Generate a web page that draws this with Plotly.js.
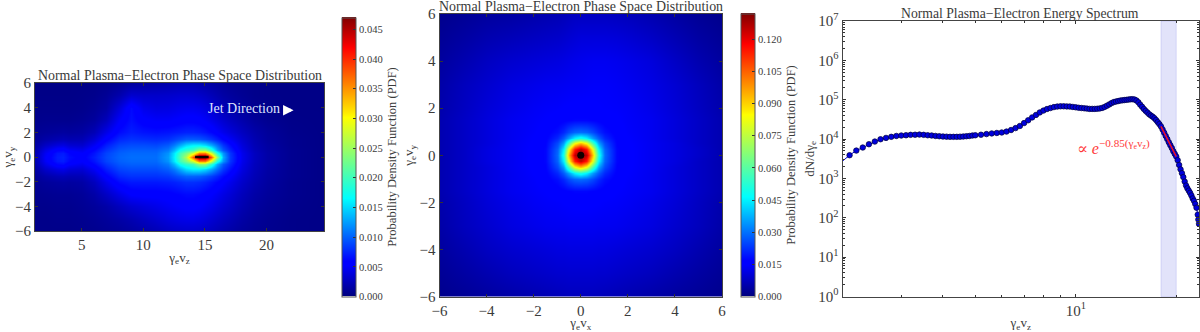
<!DOCTYPE html>
<html><head><meta charset="utf-8">
<script src="https://cdn.plot.ly/plotly-3.0.1.min.js"></script>
<style>html,body{margin:0;padding:0;background:#fff}#c{width:1200px;height:332px}</style></head>
<body><div id="c"></div>
<script>
// Phase-space panel 1 (values in units of 0.001)
const zVals = [1.2,2,3,3.5,4,5,6,7,8,9,10,11,12,12.5,13,13.5,14,14.5,15,15.5,16,16.5,17,18,19,20,22,24.7];
const yVals1 = [-6,-5,-4,-3,-2,-1.5,-1,-0.6,-0.3,0,0.3,0.6,1,1.5,2,3,4,5,6];
const pdfZY = [
[.4,.4,.4,.4,.4,.5,.6,.8,1.0,1.3,1.7,2.2,2.7,2.9,3.0,3.1,3.1,3.0,2.8,2.5,2.2,1.9,1.6,1.1,.8,.6,.4,.3],
[.4,.4,.5,.5,.5,.6,.8,1.1,1.5,2.0,2.6,3.2,3.8,4.0,4.2,4.3,4.3,4.1,3.8,3.4,3.0,2.6,2.2,1.5,1.0,.7,.4,.3],
[.5,.5,.6,.6,.6,.8,1.1,1.6,2.5,3.3,3.8,4.3,4.8,5.0,5.2,5.4,5.4,5.2,4.8,4.4,3.9,3.4,2.9,2.0,1.3,.9,.5,.3],
[.6,.7,.8,.8,.8,1.0,1.6,2.8,4.2,5.3,5.5,5.5,5.6,5.8,6.0,6.2,6.2,6.0,5.6,5.2,4.7,4.1,3.5,2.4,1.6,1.1,.6,.3],
[.8,1.1,1.3,1.4,1.3,1.5,2.5,4.4,6.2,6.8,6.8,6.8,7.0,7.2,7.5,7.8,7.8,7.6,7.2,6.6,5.9,5.2,4.4,3.0,2.0,1.3,.6,.3],
[1.0,1.7,2.2,2.3,2.1,2.2,3.4,5.6,7.4,7.9,7.9,7.9,8.2,8.8,9.4,10,10,9.8,9.2,8.4,7.4,6.2,5.2,3.4,2.2,1.4,.7,.3],
[1.4,3.0,4.0,4.2,3.6,3.4,4.8,7.0,8.6,9.0,9.0,9.0,9.8,11,13,15,16,16,15,13,10.5,8.2,6.4,3.9,2.4,1.5,.7,.3],
[1.8,4.2,6.0,6.2,5.2,4.6,6.0,8.0,9.4,9.8,9.8,9.8,11,13.5,17,19,20,24,24,19,13,9.5,7.4,4.2,2.5,1.6,.7,.3],
[2.0,4.8,6.8,7.0,6.0,5.2,6.6,8.6,9.8,10.2,10.2,10.2,12,15.5,20,23,28,36,36,28,18,12,8,4.4,2.6,1.6,.7,.3],
[2.1,5.0,7.0,7.2,6.3,5.5,7.0,8.8,10,10.4,10.4,10.4,12.4,16,21,26,38,47,47,38,24,13,8.2,4.5,2.6,1.6,.7,.3],
[2.0,4.7,6.7,6.9,5.9,5.2,6.6,8.6,9.8,10.2,10.2,10.2,12,15.5,20,23,28,36,36,28,18,12,8,4.4,2.6,1.6,.7,.3],
[1.8,4.1,5.8,6.0,5.0,4.5,6.0,8.0,9.4,9.8,9.8,9.8,11,13.5,17,19,20,24,24,19,13,9.5,7.2,4.1,2.4,1.5,.7,.3],
[1.4,2.8,3.8,4.0,3.4,3.2,4.8,7.0,8.6,9.0,9.0,8.8,9.6,11,13,15,16,16,15,13,10.5,8,6.2,3.7,2.2,1.4,.6,.3],
[1.0,1.6,2.0,2.2,2.0,2.1,3.4,5.6,7.4,7.9,7.7,7.5,7.8,8.4,9.0,9.6,9.6,9.4,8.8,8.0,7.0,5.8,4.8,3.2,2.0,1.2,.6,.3],
[.8,1.0,1.2,1.3,1.2,1.4,2.2,4.2,6.2,7.0,6.6,6.4,6.6,6.8,7.0,7.2,7.2,7.0,6.6,6.0,5.2,4.4,3.7,2.6,1.7,1.1,.5,.3],
[.5,.6,.6,.6,.6,.8,1.2,2.4,5.0,6.4,5.4,5.0,5.0,5.2,5.4,5.6,5.6,5.4,5.0,4.4,3.8,3.2,2.6,1.8,1.1,.7,.4,.3],
[.4,.4,.4,.4,.4,.5,.8,1.4,3.6,6.2,4.4,3.9,4.0,4.2,4.4,4.5,4.5,4.3,3.9,3.4,2.8,2.3,1.8,1.2,.7,.5,.3,.3],
[.3,.3,.3,.3,.3,.4,.5,.9,1.8,3.2,3.0,3.0,3.1,3.2,3.3,3.3,3.2,3.0,2.7,2.3,1.9,1.5,1.2,.8,.5,.4,.3,.3],
[.3,.3,.3,.3,.3,.3,.4,.5,.8,1.2,1.4,1.6,1.8,1.9,2.0,2.0,2.0,1.8,1.6,1.4,1.2,1.0,.8,.6,.5,.4,.3,.3]
];
const coreLineZ = [14.2,15.3];
const coreLineY = [0,0];

// Phase-space panel 2 (values in units of 0.001)
const xyVals = [-6,-5,-4,-3,-2,-1.5,-1,-.75,-.5,-.25,0,.25,.5,.75,1,1.5,2,3,4,5,6];
const pdfXY = [
[1.5,2.5,3.5,4.5,5.5,6,6.5,6.8,7,7,7,7,7,6.8,6.5,6,5.5,4.5,3.5,2.5,1.5],
[2.5,4,5.5,7,8,8.5,9,9,9.2,9.2,9.2,9.2,9.2,9,9,8.5,8,7,5.5,4,2.5],
[3.5,5.5,7.5,9,10,10.5,11,11,11.2,11.2,11.2,11.2,11.2,11,11,10.5,10,9,7.5,5.5,3.5],
[4.5,7,9,11,12.2,12.8,13,13,13.2,13.2,13.2,13.2,13.2,13,13,12.8,12.2,11,9,7,4.5],
[5,7.5,10,12,13.5,14,14.3,14.6,14.8,15,15,15,14.8,14.6,14.3,14,13.5,12,10,7.5,5],
[5.5,8,10.5,12.8,14,14.6,15.5,16,16.5,17,17,17,16.5,16,15.5,14.6,14,12.8,10.5,8,5.5],
[5.5,8,10.5,12.8,14.3,15.5,18,21,25,28,29,28,25,21,18,15.5,14.3,12.8,10.5,8,5.5],
[5.5,8,10.5,12.8,14.6,16,21,27,35,45,50,45,35,27,21,16,14.6,12.8,10.5,8,5.5],
[5.5,8,10.5,13,14.8,16.5,25,35,57,82,92,82,57,35,25,16.5,14.8,13,10.5,8,5.5],
[5.5,8,11,13,15,17,28,45,82,114,125,114,82,45,28,17,15,13,11,8,5.5],
[5.5,8,11,13,15,17,29,50,92,125,132,125,92,50,29,17,15,13,11,8.5,5.5],
[5.5,8,11,13,15,17,28,45,82,114,125,114,82,45,28,17,15,13,11,8.5,5.5],
[5.5,8,10.5,13,14.8,16.5,25,35,57,82,92,82,57,35,25,16.5,14.8,13,11,8,5.5],
[5.5,8,10.5,12.8,14.6,16,21,27,35,45,50,45,35,27,21,16,14.6,12.8,10.5,8,5.5],
[5.5,8,10.5,12.8,14.3,15.5,18,21,25,28,29,28,25,21,18,15.5,14.3,12.8,10.5,8,5.5],
[5.5,8,10.5,12.8,14,14.6,15.5,16,16.5,17,17,17,16.5,16,15.5,14.8,14,12.8,10.5,8,5.5],
[5,7.5,10,12,13.5,14,14.3,14.6,14.8,15,15,15,14.8,14.6,14.4,14.2,13.8,12.2,10,7.5,5],
[4.5,7,9,11,12.2,12.8,13,13.2,13.4,13.5,13.6,13.8,14,14,14,13.6,13,11.5,9.5,7,4.5],
[3.5,5.5,7.5,9,10,10.5,11,11.4,11.8,12.2,12.5,12.8,13,13,13,12.6,12,10.5,8,5.5,3.5],
[2.5,4,5.5,6.5,7.5,8,8.5,9,9.5,10,10.5,10.5,10.5,10.5,10.5,10.2,9.6,8,6,4,2.5],
[1.5,2.5,3.5,4,5,5.5,6,6.5,7,7.5,7.5,7.5,7.5,7.5,7.5,7.2,6.8,5.5,4,2.5,1.5]
];
const coreSpotX = [0];
const coreSpotY = [0];

// Spectrum panel
const specX = [2,2.1,2.2,2.3,2.4,2.5,2.6,2.7,2.8,2.9,3,3.1,3.2,3.3,3.4,3.5,3.6,3.7,3.8,3.9,4,4.1,4.2,4.3,4.4,4.5,4.6,4.7,4.8,4.9,
5,5.2,5.4,5.6,5.8,6,6.2,6.4,6.6,6.8,7,7.2,7.4,7.6,7.8,8,8.2,8.4,8.6,8.8,9,9.2,9.4,9.6,9.8,10,10.2,10.4,10.6,10.8,11,11.2,11.4,11.6,11.8,12,12.2,12.4,12.6,12.8,13,13.2,13.4,13.6,13.8,14,14.2,14.4,14.6,14.8,15,15.2,15.4,15.6,15.8,16,16.2,16.4,16.6,16.8,17,17.2,17.4,17.6,17.8,18,18.2,18.4,18.6,18.8,19,19.2,19.4,19.6,19.8,20,20.2,20.4,20.6,20.8,21,21.2,21.4,21.6,21.8,22,22.2,22.4,22.6,22.8,23,23.2,23.3,23.4];
const specY = [2750,3890,5100,6100,7400,8650,9900,10700,11400,12000,12300,12500,12800,12900,13000,12800,12500,12300,12000,11800,11600,11500,11400,11400,11400,11500,11600,11800,12000,12300,
12500,12900,13400,13900,14300,14700,15500,17000,19000,21500,25500,30000,35500,41000,47500,53000,58000,61500,65000,67000,68000,68000,67500,67000,65500,64000,62500,61500,60500,59500,58500,58500,58500,59000,60000,62000,65500,70500,76000,82000,87000,90000,92500,95000,96500,98000,99500,101000,102500,103000,101000,95500,86000,75000,66000,58000,52000,47000,42500,39500,37000,34000,30500,27000,24000,21000,17500,14500,12000,10000,8300,7000,5900,4900,4200,3600,2900,2200,1700,1360,1080,830,660,560,490,430,370,310,270,225,180,120,90,70];
const fitX = [18,20];
const fitY = [21000,3600];
const bandX = [18,20];
const xTicks3 = [10];
const xTickText3 = ['10<sup>1</sup>'];
const xMinor3 = [3,4,5,6,7,8,9,20];
const yTicks3 = [1,10,100,1000,10000,100000,1000000,10000000];
const yTickText3 = ['10<sup>0</sup>','10<sup>1</sup>','10<sup>2</sup>','10<sup>3</sup>','10<sup>4</sup>','10<sup>5</sup>','10<sup>6</sup>','10<sup>7</sup>'];
const yMinor3 = [];
[0,1,2,3,4,5,6].forEach(k=>[2,3,4,5,6,7,8,9].forEach(m=>yMinor3.push(m*Math.pow(10,k))));

const W=1200,H=332;
const fx=p=>p/W, fy=p=>1-p/H;
const jet=[[0,'rgb(0,0,128)'],[0.11,'rgb(0,0,255)'],[0.125,'rgb(0,0,255)'],[0.35,'rgb(0,255,255)'],[0.375,'rgb(20,255,230)'],[0.64,'rgb(255,255,0)'],[0.66,'rgb(255,230,0)'],[0.89,'rgb(255,0,0)'],[0.91,'rgb(230,0,0)'],[1,'rgb(128,0,0)']];
const serif='"Liberation Serif","DejaVu Serif",serif';
const ink='#3a3a3a';
const thou=m=>m.map(r=>r.map(v=>v/1000));

function cbar(x,top,bot,dt){return {x:fx(x),xanchor:'left',xpad:0,ypad:0,y:fy(bot),yanchor:'bottom',
  lenmode:'pixels',len:bot-top,thicknessmode:'pixels',thickness:14,outlinecolor:'#555',outlinewidth:1,
  ticks:'inside',ticklen:3,tickcolor:'#333',tick0:0,dtick:dt,tickformat:'.3f',
  tickfont:{family:serif,size:10.5,color:ink},
  title:{text:'Probability Density Function (PDF)',side:'right',font:{family:serif,size:12.5,color:ink}}};}

const traces=[
 {type:'heatmap',x:zVals,y:yVals1,z:thou(pdfZY),zsmooth:'best',colorscale:jet,zmin:0,zmax:0.047,xaxis:'x',yaxis:'y',hoverinfo:'skip',colorbar:cbar(342,18,296.5,0.005)},
 {type:'scatter',mode:'lines',x:coreLineZ,y:coreLineY,xaxis:'x',yaxis:'y',line:{color:'#100000',width:2.5},showlegend:false,hoverinfo:'skip'},
 {type:'heatmap',x:xyVals,y:xyVals,z:thou(pdfXY),zsmooth:'best',colorscale:jet,zmin:0,zmax:0.132,xaxis:'x2',yaxis:'y2',hoverinfo:'skip',colorbar:cbar(741,14,296.5,0.015)},
 {type:'scatter',mode:'markers',x:coreSpotX,y:coreSpotY,xaxis:'x2',yaxis:'y2',marker:{color:'#100000',size:7},showlegend:false,hoverinfo:'skip'},
 {type:'scatter',mode:'lines+markers',x:specX,y:specY,xaxis:'x3',yaxis:'y3',line:{color:'#0000e0',width:1},
  marker:{color:'#0000dd',size:5.5,line:{color:'#00003a',width:0.7}},showlegend:false,hoverinfo:'skip',cliponaxis:false},
 {type:'scatter',mode:'lines',x:fitX,y:fitY,xaxis:'x3',yaxis:'y3',line:{color:'#e8102a',width:1.6},showlegend:false,hoverinfo:'skip'}
];

function ax(domain,extra){return Object.assign({domain:domain,showgrid:false,zeroline:false,showline:true,linecolor:'#444',linewidth:1,mirror:'allticks',
  ticks:'inside',ticklen:3,tickcolor:'#333',tickfont:{family:serif,size:15,color:ink}},extra);}
const tf={family:serif,size:13,color:ink};
const hf={family:serif,size:13.9,color:ink};
const layout={width:W,height:H,margin:{l:0,r:0,t:0,b:0},paper_bgcolor:'#fff',plot_bgcolor:'#fff',showlegend:false,
 xaxis:ax([fx(35),fx(324)],{anchor:'y',range:[1.2,24.67],tick0:0,dtick:5,title:{text:'γ<sub>e</sub>v<sub>z</sub>',font:tf,standoff:0}}),
 yaxis:ax([fy(231),fy(83)],{anchor:'x',range:[-6,6],tick0:-6,dtick:2,title:{text:'γ<sub>e</sub>v<sub>y</sub>',font:tf,standoff:6}}),
 xaxis2:ax([fx(439.5),fx(722)],{anchor:'y2',range:[-6,6],tick0:-6,dtick:2,title:{text:'γ<sub>e</sub>v<sub>x</sub>',font:tf,standoff:2}}),
 yaxis2:ax([fy(296.5),fy(14)],{anchor:'x2',range:[-6,6],tick0:-6,dtick:2,title:{text:'γ<sub>e</sub>v<sub>y</sub>',font:tf,standoff:2}}),
 xaxis3:ax([fx(842.5),fx(1199)],{anchor:'y3',type:'log',range:[Math.log10(2),Math.log10(23.4)],tickmode:'array',tickvals:xTicks3,ticktext:xTickText3,
   minor:{tickmode:'array',tickvals:xMinor3,ticks:'inside',ticklen:2,tickcolor:'#333'},title:{text:'γ<sub>e</sub>v<sub>z</sub>',font:tf,standoff:2}}),
 yaxis3:ax([fy(296.5),fy(21)],{anchor:'x3',type:'log',range:[0,7],tickmode:'array',tickvals:yTicks3,ticktext:yTickText3,
   minor:{tickmode:'array',tickvals:yMinor3,ticks:'inside',ticklen:2,tickcolor:'#333'},title:{text:'dN/dγ<sub>e</sub>',font:tf,standoff:0}}),
 shapes:[{type:'rect',layer:'below',xref:'x3',yref:'paper',x0:bandX[0],x1:bandX[1],y0:fy(296.5),y1:fy(21),fillcolor:'rgba(110,115,230,0.2)',line:{width:0.8,color:'rgba(110,115,230,0.25)'}}],
 annotations:[
  {xref:'paper',yref:'paper',xanchor:'center',yanchor:'middle',x:fx(179.5),y:fy(76),text:'Normal Plasma−Electron Phase Space Distribution',showarrow:false,font:hf},
  {xref:'paper',yref:'paper',xanchor:'center',yanchor:'middle',x:fx(581),y:fy(6),text:'Normal Plasma−Electron Phase Space Distribution',showarrow:false,font:hf},
  {xref:'paper',yref:'paper',xanchor:'center',yanchor:'middle',x:fx(1020),y:fy(13),text:'Normal Plasma−Electron Energy Spectrum',showarrow:false,font:{family:serif,size:13.7,color:ink}},
  {xref:'paper',yref:'paper',xanchor:'center',yanchor:'middle',x:fx(243.5),y:fy(109),text:'Jet Direction',showarrow:false,font:{family:serif,size:14,color:'#dfe4ff'}},
  {xref:'x',yref:'y',x:22.2,y:3.8,ax:21.3,ay:3.8,axref:'x',ayref:'y',text:'',showarrow:true,arrowhead:2,arrowsize:0.7,arrowwidth:3,arrowcolor:'#fff'},
  {xref:'paper',yref:'paper',xanchor:'center',yanchor:'middle',x:fx(1113),y:fy(147),text:'∝ <i>e</i><sup>−0.85(γ<sub>e</sub>v<sub>z</sub>)</sup>',showarrow:false,font:{family:serif,size:16,color:'#ff3a3a'}}
 ]};
Plotly.newPlot('c',traces,layout,{displayModeBar:false,staticPlot:true});
</script></body></html>
